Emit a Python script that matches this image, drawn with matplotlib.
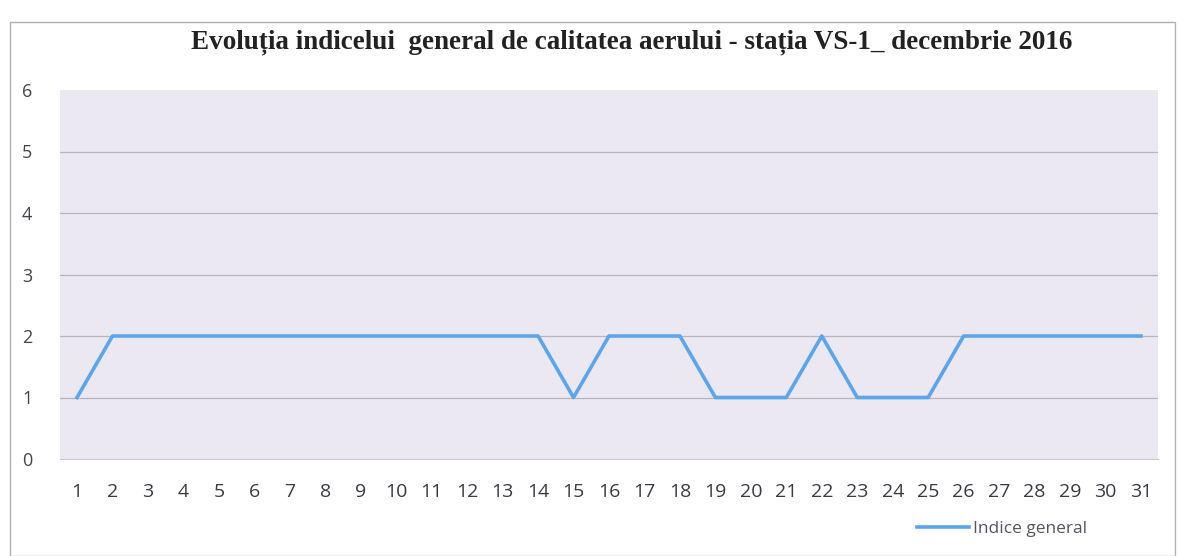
import matplotlib
matplotlib.use("Agg")
import matplotlib.pyplot as plt
from matplotlib.patches import Rectangle

days = list(range(1, 32))
indice = [1, 2, 2, 2, 2, 2, 2, 2, 2, 2, 2, 2, 2, 2, 1, 2, 2, 2, 1, 1, 1, 2, 1, 1, 1, 2, 2, 2, 2, 2, 2]
yticks = [0, 1, 2, 3, 4, 5, 6]
title = "Evoluția indicelui  general de calitatea aerului - stația VS-1_ decembrie 2016"
series_name = "Indice general"

W, H = 1179, 556
fig = plt.figure(figsize=(W / 100, H / 100), dpi=100)
fig.patch.set_facecolor("white")

# outer frame
fig.patches.append(Rectangle((10 / W, 0), (1175 - 10) / W, (H - 22) / H,
                             transform=fig.transFigure, fill=False,
                             edgecolor="#b0b0b0", linewidth=1.0))

ax = fig.add_axes([60 / W, 1 - 459 / H, (1158 - 60) / W, (459 - 90) / H])
ax.set_facecolor("#ece8f2")
ax.set_xlim(0.52, 31.48)
ax.set_ylim(0, 6)
for y in yticks[1:-1]:
    ax.axhline(y, color="#b8b4bc", linewidth=0.9, zorder=1)
ax.plot(days, indice, color="#5aa6ee", linewidth=2.6, zorder=3, label=series_name)

ax.set_xticks(days)
ax.set_xticklabels([str(d) for d in days], fontfamily="Open Sans", fontsize=14, color="#3a3a44")
ax.set_yticks(yticks)
ax.set_yticklabels([str(v) for v in yticks], fontfamily="Open Sans", fontsize=13, color="#44444c")
ax.tick_params(axis="x", length=0, pad=17)
ax.tick_params(axis="y", length=0, pad=20)
for s in ["top", "right", "left"]:
    ax.spines[s].set_visible(False)
ax.spines["bottom"].set_color("#c8c8d4")

fig.text(632 / W, 1 - 42 / H, title, ha="center", va="center",
         fontfamily="Liberation Serif", fontweight="bold", fontsize=19.5, color="#222222")

leg = fig.legend(loc="center", bbox_to_anchor=(1002 / W, 1 - 529 / H), frameon=False,
                 prop={"family": "Open Sans", "size": 12.5}, handlelength=3.0, handletextpad=0.2)
for t in leg.get_texts():
    t.set_color("#555566")

fig.savefig("out.png", dpi=100)
